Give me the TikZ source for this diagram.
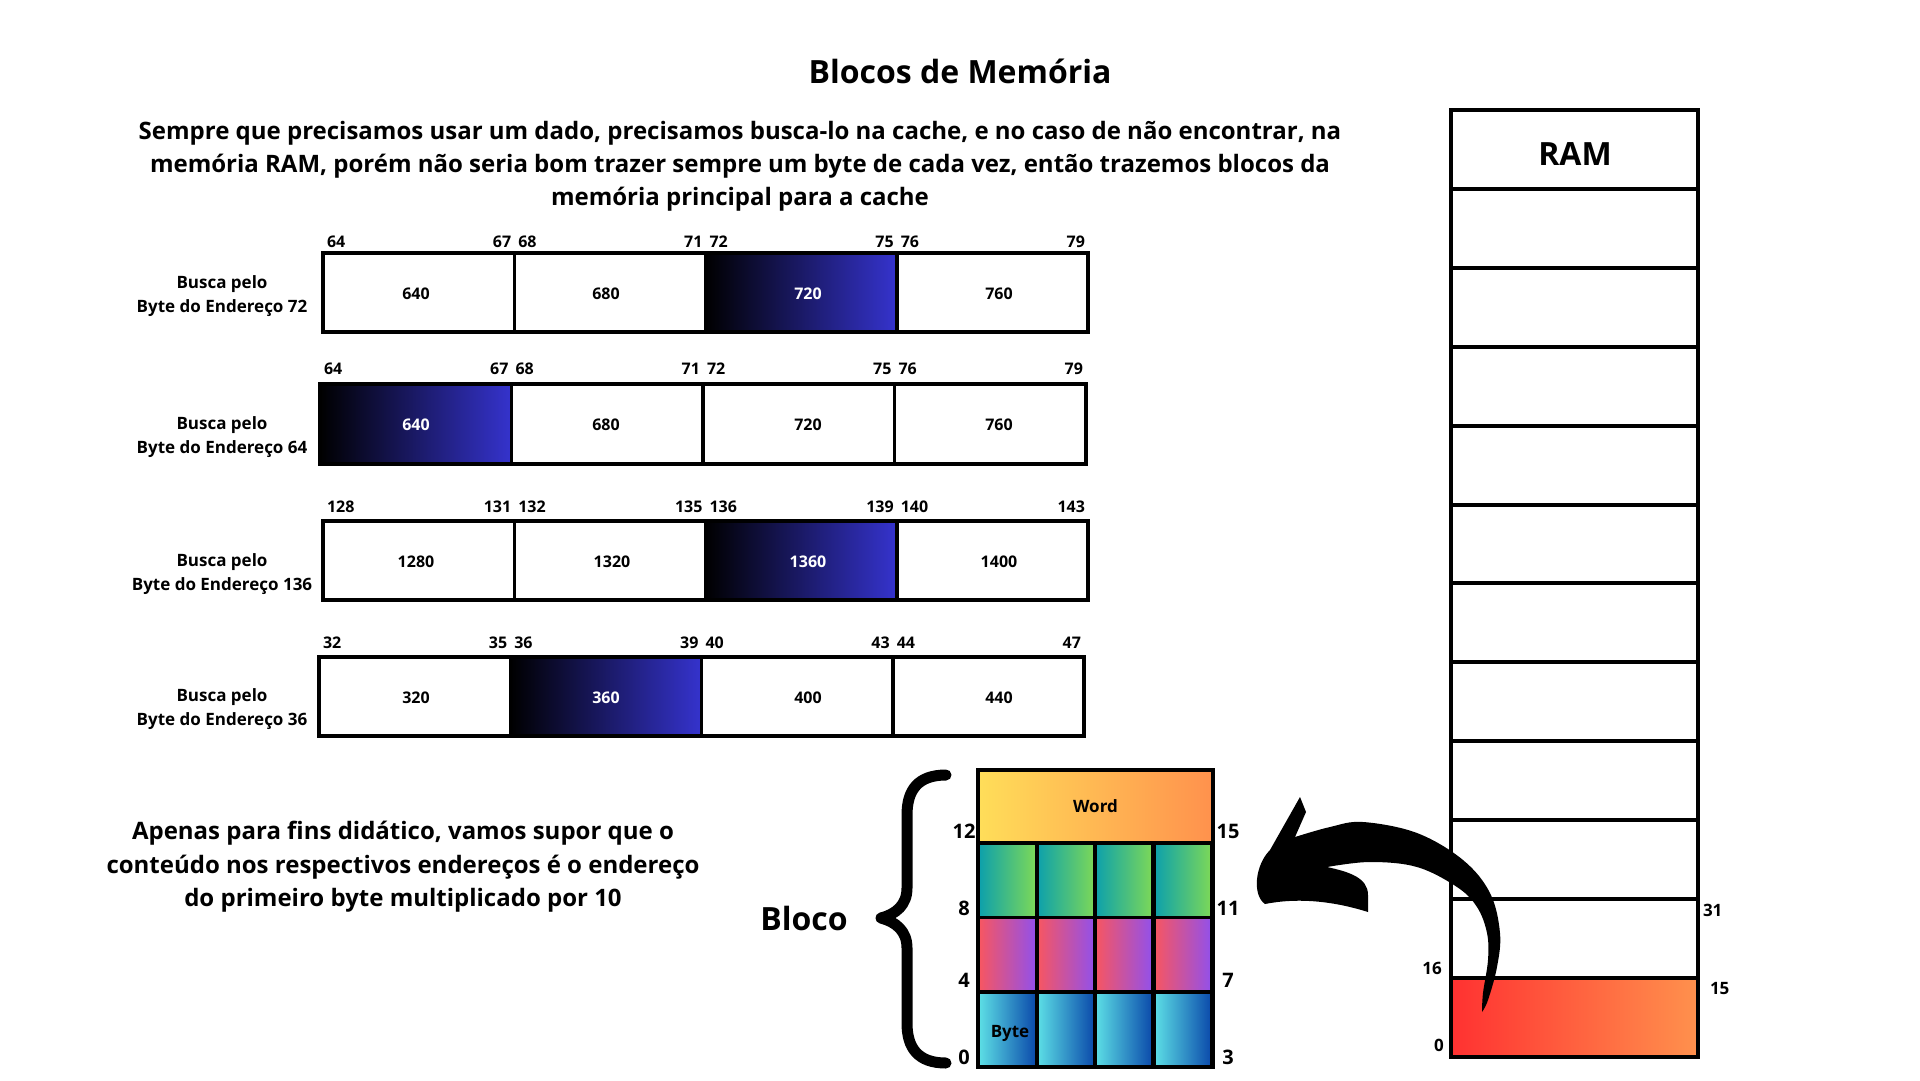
\documentclass[tikz,border=0pt]{standalone}
\usepackage{fontspec}
\setmainfont{Open Sans}
\definecolor{hlA}{HTML}{000000}
\definecolor{hlB}{HTML}{3533CD}
\definecolor{wordA}{HTML}{FFDE59}
\definecolor{wordB}{HTML}{FF914D}
\definecolor{tealA}{HTML}{0CA0AC}
\definecolor{tealB}{HTML}{7ED957}
\definecolor{pinkA}{HTML}{F85660}
\definecolor{pinkB}{HTML}{9150EC}
\definecolor{cyanA}{HTML}{5DE0E6}
\definecolor{cyanB}{HTML}{0A48AA}
\definecolor{redA}{HTML}{FF3131}
\definecolor{redB}{HTML}{FF914D}
\begin{document}
\begin{tikzpicture}[x=1pt,y=-1pt,
  every node/.style={inner sep=0pt, outer sep=0pt},
  fA/.style={font=\bfseries\fontsize{16}{19}\selectfont},
  fL/.style={font=\bfseries\fontsize{17}{24}\selectfont, align=center},
  fP/.style={font=\bfseries\fontsize{24}{33}\selectfont, align=center},
  fQ/.style={font=\bfseries\fontsize{24}{33.5}\selectfont, align=center},
  fG/.style={font=\bfseries\fontsize{20}{24}\selectfont},
  fR/.style={font=\bfseries\fontsize{17}{20}\selectfont},
  cell/.style={draw=black, line width=3.5pt},
  gcell/.style={draw=black, line width=3.5pt, minimum width=58, minimum height=74.5},
  ramrow/.style={draw=black, line width=4pt, minimum width=247, minimum height=78.9},
]
\useasboundingbox (0,0) rectangle (1920,1080);
\fill[white] (0,0) rectangle (1920,1080);

% title and text
\node[font=\bfseries\fontsize{32}{38}\selectfont] (title) at (960,71) {Blocos de Memória};
\node[fP, anchor=north] (intro) at (740,121) {Sempre que precisamos usar um dado, precisamos busca-lo na cache, e no caso de não encontrar, na\\memória RAM, porém não seria bom trazer sempre um byte de cada vez, então trazemos blocos da\\memória principal para a cache};

% rows of blocks
\foreach \r/\xl/\xr/\yt/\yb/\h/\a/\lab/\ly/\lby/\xb in {1/323/1088/253/332/3/64/72/242/296/606, 2/320/1086/384/464/1/64/64/369/437/606, 3/323/1088/521/600/3/128/136/507/574/612, 4/319/1084/657/736/2/32/36/643/709/606}{
  \pgfmathsetmacro{\w}{(\xr-\xl)/4}
  \pgfmathsetmacro{\hh}{\yb-\yt}
  \pgfmathsetmacro{\ym}{(\yt+\yb)/2}
  \foreach \c/\tx in {1/416,2/\xb,3/808,4/999}{
    \pgfmathsetmacro{\cx}{\xl+(\c-0.5)*\w}
    \pgfmathsetmacro{\cl}{\xl+(\c-1)*\w}
    \pgfmathsetmacro{\cr}{\xl+\c*\w}
    \pgfmathtruncatemacro{\lo}{\a+4*(\c-1)}
    \pgfmathtruncatemacro{\hi}{\a+4*(\c-1)+3}
    \pgfmathtruncatemacro{\val}{10*\lo}
    \ifnum\c=\h
      \node[cell, left color=hlA, right color=hlB, minimum width=\w, minimum height=\hh] (r\r c\c) at (\cx,\ym) {};
      \node[fA, text=white] (r\r v\c) at (\tx,\ym+1) {\val};
    \else
      \node[cell, fill=white, minimum width=\w, minimum height=\hh] (r\r c\c) at (\cx,\ym) {};
      \node[fA] (r\r v\c) at (\tx,\ym+1) {\val};
    \fi
    \node[fA, anchor=west] (r\r lo\c) at (\cl+4,\ly) {\lo};
    \node[fA, anchor=east] (r\r hi\c) at (\cr-3,\ly) {\hi};
  }
  \draw[line width=4.5pt] (\xl,\yt) rectangle (\xr,\yb);
  \node[fL] (lab\r) at (222,\lby) {Busca pelo\\Byte do Endereço \lab};
}

% bottom-left note
\node[fQ] (note) at (403,867) {Apenas para fins didático, vamos supor que o\\conteúdo nos respectivos endereços é o endereço\\do primeiro byte multiplicado por 10};

% block
\node[font=\bfseries\fontsize{32}{38}\selectfont] (bloco) at (804,918) {Bloco};
\draw[line width=11pt, line cap=round, line join=round] (946,775) .. controls (918,775) and (907,790) .. (907,815) -- (907,888) .. controls (907,905) and (896,914) .. (881,918) .. controls (896,922) and (907,931) .. (907,948) -- (907,1023) .. controls (907,1048) and (918,1063) .. (946,1063);

\node[draw=black, line width=3.5pt, left color=wordA, right color=wordB, minimum width=235, minimum height=73, fR] (word) at (1095.5,806.5) {Word};
\foreach \c/\x in {1/1007.5, 2/1066, 3/1124, 4/1183}{
  \node[gcell, left color=tealA, right color=tealB] (g2\c) at (\x,880) {};
  \node[gcell, left color=pinkA, right color=pinkB] (g3\c) at (\x,954.5) {};
  \node[gcell, left color=cyanA, right color=cyanB] (g4\c) at (\x,1029.5) {};
}
\node[fR] (byte) at (1010,1033) {Byte};
\draw[line width=4pt] (978,770) rectangle (1213,1067);
\foreach \t/\u/\y in {12/15/831, 8/11/908, 4/7/980, 0/3/1057}{
  \node[fG] (gl\t) at (964,\y) {\t};
  \node[fG] (gr\u) at (1228,\y) {\u};
}

% RAM column
\node[ramrow] (ramh) at (1574.5,149.5) {};
\node[font=\bfseries\fontsize{32}{38}\selectfont] (ramt) at (1575,154) {RAM};
\foreach \i in {1,...,10}{
  \node[ramrow, fill=white] (ram\i) at (1574.5,149.5+78.9*\i) {};
}
\node[ramrow, left color=redA, right color=redB] (ram11) at (1574.5,149.5+78.9*11) {};
\draw[line width=4.5pt] (1451,110) rectangle (1698,1057);
\node[fR, anchor=west] (n31) at (1703,910) {31};
\node[fR, anchor=west] (n15) at (1710,988) {15};
\node[fR] (n16) at (1432,968) {16};
\node[fR] (n0) at (1439,1045) {0};

% curved arrow
\fill[black] (1300,797) -- (1306,812) -- (1295,837)
 -- plot[smooth, tension=0.6] coordinates {(1295,837) (1330,827) (1363,822) (1417,833) (1463,860) (1490,893) (1500,933) (1497,967) (1488,1000) (1482,1012)}
 -- plot[smooth, tension=0.6] coordinates {(1482,1012) (1483,993) (1488,960) (1487,933) (1477,907) (1457,887) (1417,867) (1370,862) (1327,867)}
 .. controls (1350,872) and (1368,878) .. (1368,895) -- (1368,912)
 .. controls (1330,900) and (1295,898) .. (1265,904)
 .. controls (1252,895) and (1255,865) .. (1270,850) -- cycle;
\end{tikzpicture}
\end{document}
